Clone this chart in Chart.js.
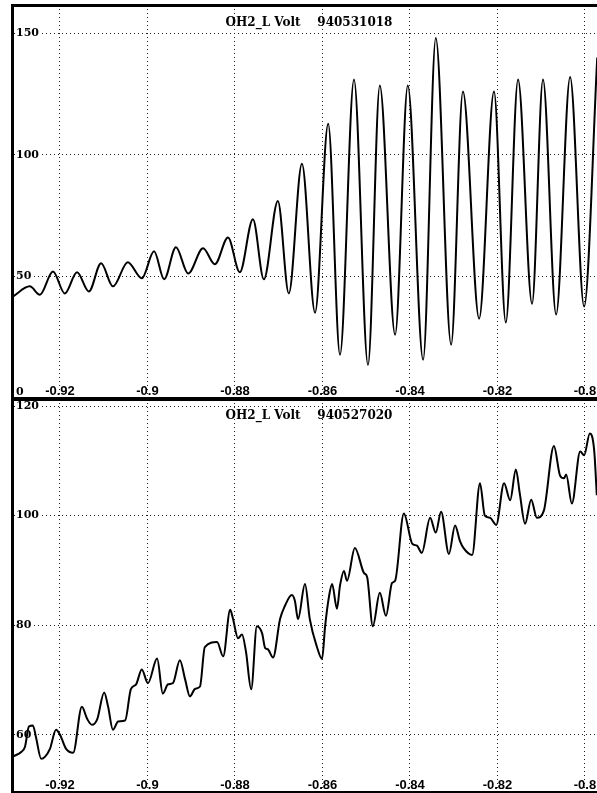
<!DOCTYPE html>
<html>
<head>
<meta charset="utf-8">
<script src="https://cdn.jsdelivr.net/npm/chart.js@4.4.1/dist/chart.umd.min.js"></script>
<style>
  html, body { margin: 0; padding: 0; background: #fff; overflow: hidden; }
  #page { position: relative; width: 597px; height: 793px; overflow: hidden; background: #fff; }
  canvas { position: absolute; left: 0; }
  #topChart { top: 0; width: 614px; height: 400px; }
  #bottomChart { top: 397px; width: 614px; height: 396px; }
</style>
</head>
<body>
<div id="page">
  <canvas id="topChart" width="614" height="400"></canvas>
  <canvas id="bottomChart" width="614" height="396"></canvas>
</div>
<script>
var xTicks = [-0.92, -0.9, -0.88, -0.86, -0.84, -0.82, -0.8];
var xTickLabels = ['-0.92', '-0.9', '-0.88', '-0.86', '-0.84', '-0.82', '-0.8'];

var topTitle = 'OH2_L Volt    940531018';
var topYTicks = [0, 50, 100, 150];
var topYLabels = ['0', '50', '100', '150'];

var bottomTitle = 'OH2_L Volt    940527020';
var bottomYTicks = [60, 80, 100, 120];
var bottomYLabels = ['60', '80', '100', '120'];

// 940531018: peaks and troughs of the oscillation
var topTime = [
    -0.9308, -0.9269, -0.9246, -0.9216, -0.9189, -0.9161, -0.9134, -0.9106,
    -0.9079, -0.9045, -0.9013, -0.8985, -0.8962, -0.8935, -0.8907, -0.8873,
    -0.8846, -0.8816, -0.8789, -0.8759, -0.8734, -0.8702, -0.8677, -0.8647,
    -0.8617, -0.8587, -0.8560, -0.8528, -0.8496, -0.8469, -0.8434, -0.8405,
    -0.8370, -0.8341, -0.8306, -0.8279, -0.8242, -0.8208, -0.8181, -0.8153,
    -0.8121, -0.8096, -0.8066, -0.8034, -0.8002, -0.7972
];
var topVolt = [
    41.7, 45.9, 42.5, 52.0, 43.0, 51.7, 43.8, 55.4,
    45.9, 55.8, 49.2, 60.3, 48.8, 62.0, 51.2, 61.6,
    55.0, 66.0, 51.7, 73.5, 48.8, 81.0, 43.0, 96.3,
    35.1, 112.8, 17.8, 131.0, 13.6, 128.5, 26.0, 128.5,
    15.7, 148.0, 21.9, 126.0, 32.6, 126.0, 31.0, 131.0,
    38.8, 131.0, 34.3, 132.0, 37.6, 140.0
];

// 940527020
var bottomTime = [
    -0.9308, -0.9288, -0.9280, -0.9271, -0.9262, -0.9255, -0.9243, -0.9234,
    -0.9223, -0.9209, -0.9200, -0.9186, -0.9170, -0.9150, -0.9138, -0.9127,
    -0.9115, -0.9099, -0.9090, -0.9079, -0.9067, -0.9051, -0.9038, -0.9026,
    -0.9013, -0.8999, -0.8978, -0.8965, -0.8953, -0.8942, -0.8926, -0.8914,
    -0.8903, -0.8891, -0.8880, -0.8869, -0.8841, -0.8827, -0.8811, -0.8805,
    -0.8793, -0.8784, -0.8775, -0.8763, -0.8750, -0.8738, -0.8731, -0.8725,
    -0.8713, -0.8697, -0.8686, -0.8670, -0.8663, -0.8656, -0.8640, -0.8629,
    -0.8613, -0.8601, -0.8594, -0.8585, -0.8578, -0.8567, -0.8560, -0.8551,
    -0.8544, -0.8526, -0.8505, -0.8498, -0.8485, -0.8469, -0.8455, -0.8441,
    -0.8434, -0.8414, -0.8395, -0.8384, -0.8373, -0.8354, -0.8341, -0.8329,
    -0.8311, -0.8297, -0.8286, -0.8277, -0.8258, -0.8240, -0.8229, -0.8217,
    -0.8203, -0.8185, -0.8171, -0.8158, -0.8149, -0.8137, -0.8123, -0.8110,
    -0.8094, -0.8071, -0.8057, -0.8048, -0.8043, -0.8030, -0.8011, -0.8002,
    -0.7989, -0.7979, -0.7973
];
var bottomVolt = [
    56.0, 56.9, 57.8, 61.5, 61.7, 59.6, 55.6, 56.0,
    57.4, 60.9, 60.0, 57.4, 56.7, 65.1, 62.9, 61.8,
    62.8, 67.7, 65.1, 60.9, 62.4, 62.6, 68.3, 69.2,
    71.9, 69.4, 73.9, 67.5, 69.2, 69.4, 73.6, 70.1,
    67.0, 68.4, 68.8, 76.0, 76.9, 74.3, 82.8, 81.3,
    77.6, 78.3, 75.2, 68.3, 79.8, 78.5, 75.8, 75.6,
    74.1, 81.1, 83.5, 85.5, 84.4, 81.1, 87.5, 81.1,
    76.1, 73.8, 79.8, 85.3, 87.5, 83.0, 87.2, 89.9,
    88.1, 94.1, 89.5, 88.8, 79.8, 85.9, 81.7, 87.7,
    88.1, 100.4, 94.9, 94.5, 93.2, 99.6, 96.9, 100.7,
    93.0, 98.2, 95.4, 94.0, 92.8, 105.9, 100.0, 99.6,
    98.3, 105.9, 102.8, 108.4, 104.0, 98.5, 102.9, 99.6,
    100.9, 112.7, 107.3, 106.8, 107.5, 102.2, 111.7, 111.0,
    115.0, 111.9, 103.7
];

Chart.defaults.color = '#000';

var serifBold = { family: '"DejaVu Serif", "Liberation Serif", serif', weight: 'bold', size: 11, lineHeight: 1 };
var sansBold = { family: '"Liberation Sans", Arial, sans-serif', weight: 'bold', size: 13, lineHeight: 1 };
var titleFont = { family: '"DejaVu Serif", "Liberation Serif", serif', weight: 'bold', size: 12, lineHeight: 1.2 };
var titleLine = 14.4;

// labels live inside the frame, so the axes must not push it inward
function noEdgePadding(s) {
    s.paddingTop = 0;
    s.paddingBottom = 0;
    s.paddingLeft = 0;
    s.paddingRight = 0;
}

function voltChart(id, title, times, volts, yTicks, yLabels, yMin, yMax, pad) {
    var points = times.map(function (t, i) { return { x: t, y: volts[i] }; });

    return new Chart(document.getElementById(id), {
        type: 'line',
        data: {
            datasets: [{
                data: points,
                xAxisID: 'x',
                yAxisID: 'y',
                borderColor: '#000',
                borderWidth: 2,
                pointRadius: 0,
                fill: false,
                cubicInterpolationMode: 'monotone'
            }]
        },
        options: {
            responsive: false,
            animation: false,
            events: [],
            layout: { autoPadding: false, padding: { left: 4, right: 0, top: pad.top, bottom: pad.bottom } },
            plugins: {
                legend: { display: false },
                tooltip: { enabled: false },
                title: {
                    display: true,
                    text: title,
                    color: '#000',
                    font: titleFont,
                    // sits inside the frame, takes no room from the plot
                    padding: { top: pad.title, bottom: -(pad.title + titleLine) }
                }
            },
            scales: {
                x: {
                    type: 'linear',
                    position: 'bottom',
                    min: -0.93097,
                    max: -0.79337,
                    afterBuildTicks: function (s) {
                        s.ticks = xTicks.map(function (v) { return { value: v }; });
                    },
                    afterFit: noEdgePadding,
                    ticks: {
                        mirror: true,
                        padding: 0,
                        maxRotation: 0,
                        autoSkip: false,
                        font: sansBold,
                        color: '#000',
                        callback: function (v, i) { return xTickLabels[i]; }
                    },
                    grid: { color: '#222', lineWidth: 1, drawTicks: false },
                    border: { display: true, color: '#000', width: 3, dash: [1, 3] }
                },
                y: {
                    type: 'linear',
                    position: 'left',
                    min: yMin,
                    max: yMax,
                    afterBuildTicks: function (s) {
                        s.ticks = yTicks.map(function (v) { return { value: v }; });
                    },
                    afterFit: noEdgePadding,
                    ticks: {
                        mirror: true,
                        padding: 4,
                        autoSkip: false,
                        font: serifBold,
                        color: '#000',
                        showLabelBackdrop: function (c) { return c.tick && c.tick.value > c.scale.min; },
                        backdropColor: '#fff',
                        backdropPadding: 1,
                        // label at the lower frame edge is lifted above it
                        callback: function (v, i) {
                            return v === this.min ? [yLabels[i], ''] : yLabels[i];
                        }
                    },
                    grid: { color: '#222', lineWidth: 1, drawTicks: false },
                    border: { display: true, color: '#000', width: 3, dash: [1, 3] }
                },
                frameTop: {
                    type: 'linear',
                    position: 'top',
                    min: 0,
                    max: 1,
                    afterFit: noEdgePadding,
                    ticks: { display: false },
                    grid: { display: false, drawTicks: false },
                    border: { display: true, color: '#000', width: 3 }
                }
            }
        }
    });
}

var topChart = voltChart('topChart', topTitle, topTime, topVolt, topYTicks, topYLabels,
    0, 161.6, { top: 5, bottom: 2, title: 11 });

var bottomChart = voltChart('bottomChart', bottomTitle, bottomTime, bottomVolt, bottomYTicks, bottomYLabels,
    49.54, 121.28, { top: 2, bottom: 1, title: 10 });
</script>
</body>
</html>
